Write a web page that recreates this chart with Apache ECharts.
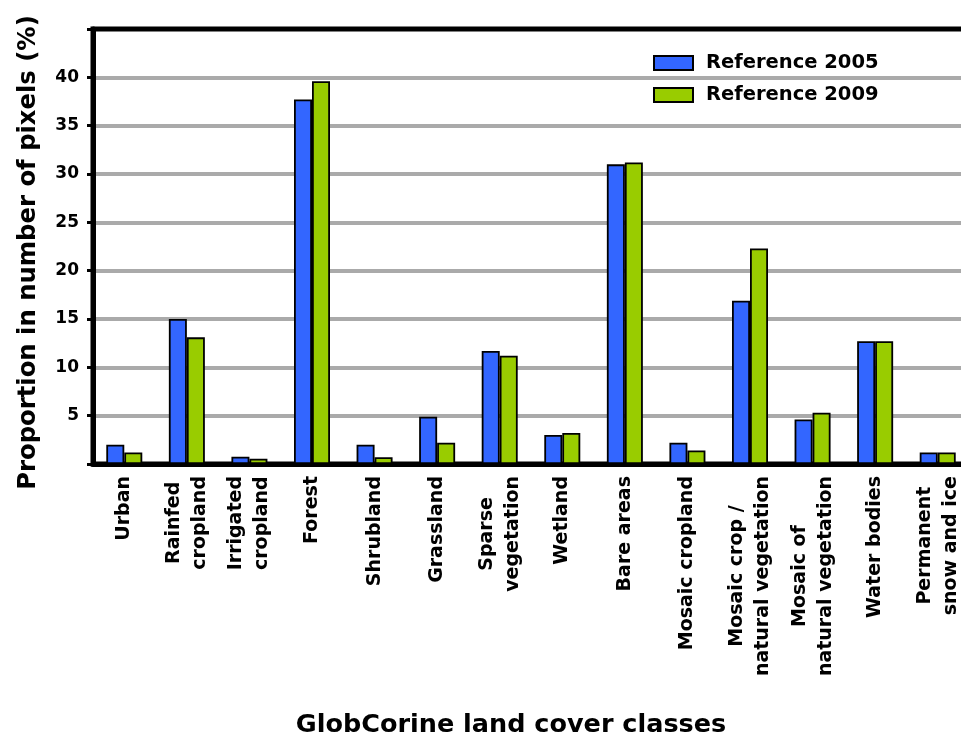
<!DOCTYPE html>
<html>
<head>
<meta charset="utf-8">
<script src="https://cdn.jsdelivr.net/npm/echarts@6.0.0/dist/echarts.min.js"></script>
<style>
  html, body { margin: 0; padding: 0; background: #fff; }
  #chart { width: 961px; height: 738px; }
</style>
</head>
<body>
<div id="chart"></div>
<script>
// land cover classes (line breaks as in the figure)
const categories = [
  'Urban', 'Rainfed\ncropland', 'Irrigated\ncropland', 'Forest', 'Shrubland',
  'Grassland', 'Sparse\nvegetation', 'Wetland', 'Bare areas', 'Mosaic cropland',
  'Mosaic crop /\nnatural vegetation', 'Mosaic of\nnatural vegetation',
  'Water bodies', 'Permanent\nsnow and ice'
];
const ref2005 = [2.0, 15.0, 0.75, 37.7, 2.0, 4.9, 11.7, 3.0, 31.0, 2.2, 16.9, 4.6, 12.7, 1.2];
const ref2009 = [1.2, 13.1, 0.55, 39.6, 0.7, 2.2, 11.2, 3.2, 31.2, 1.4, 22.3, 5.3, 12.7, 1.2];
const seriesNames = ['Reference 2005', 'Reference 2009'];
const yTicks = [5, 10, 15, 20, 25, 30, 35, 40];

const FONT = 'DejaVu Sans';
const chart = echarts.init(document.getElementById('chart'));

const barStyle = (color) => ({
  color: color,
  borderColor: '#000',
  borderWidth: 1.8
});

// split lines at 0..45: gray inside, black on the frame edges
const splitColors = [0, 5, 10, 15, 20, 25, 30, 35, 40, 45].map((v) =>
  yTicks.indexOf(v) >= 0 ? '#aaaaaa' : '#000'
);

const option = {
  animation: false,
  backgroundColor: '#fff',
  grid: {
    left: 93,
    top: 29,
    right: -8,
    bottom: 274,
    outerBoundsMode: 'none',
    show: true,
    borderColor: '#000',
    borderWidth: 5
  },
  legend: {
    orient: 'vertical',
    left: 653,
    top: 53,
    padding: 0,
    icon: 'rect',
    itemWidth: 39,
    itemHeight: 14,
    itemGap: 12,
    textStyle: {
      fontFamily: FONT,
      fontWeight: 'bold',
      fontSize: 19.5,
      color: '#000',
      padding: [0, 0, 0, 8]
    },
    data: seriesNames
  },
  xAxis: {
    type: 'category',
    data: categories,
    name: 'GlobCorine land cover classes',
    nameLocation: 'middle',
    nameGap: 248,
    nameTextStyle: {
      fontFamily: FONT,
      fontWeight: 'bold',
      fontSize: 25.5,
      color: '#000',
      padding: [0, 40, 0, 0]
    },
    axisLine: { lineStyle: { color: '#000', width: 5 } },
    axisTick: { length: 6, lineStyle: { color: '#000', width: 3 } },
    axisLabel: {
      interval: 0,
      rotate: 90,
      margin: 12,
      formatter: (v) => v.split('\n').map((s) => '{c|' + s + '}').join('\n'),
      rich: {
        c: {
          align: 'center',
          fontFamily: FONT,
          fontWeight: 'bold',
          fontSize: 19,
          lineHeight: 26,
          color: '#000'
        }
      }
    }
  },
  yAxis: {
    type: 'value',
    min: 0,
    max: 45,
    interval: 5,
    name: 'Proportion in number of pixels (%)',
    nameLocation: 'middle',
    nameGap: 52,
    nameTextStyle: {
      fontFamily: FONT,
      fontWeight: 'bold',
      fontSize: 24.3,
      color: '#000',
      padding: [0, 12, 0, 0]
    },
    axisLine: { show: true, lineStyle: { color: '#000', width: 5 } },
    axisTick: { show: true, length: 6, lineStyle: { color: '#000', width: 3 } },
    axisLabel: {
      margin: 14,
      fontFamily: FONT,
      fontWeight: 'bold',
      fontSize: 17,
      color: '#000',
      formatter: (v) => (yTicks.indexOf(v) >= 0 ? String(v) : '')
    },
    splitLine: { lineStyle: { color: splitColors, width: 4 } }
  },
  series: [
    {
      name: seriesNames[0],
      type: 'bar',
      data: ref2005,
      barWidth: 18,
      barGap: '0%',
      itemStyle: barStyle('#3366ff')
    },
    {
      name: seriesNames[1],
      type: 'bar',
      data: ref2009,
      barWidth: 18,
      barGap: '0%',
      itemStyle: barStyle('#99cc00')
    }
  ]
};

chart.setOption(option);
</script>
</body>
</html>
